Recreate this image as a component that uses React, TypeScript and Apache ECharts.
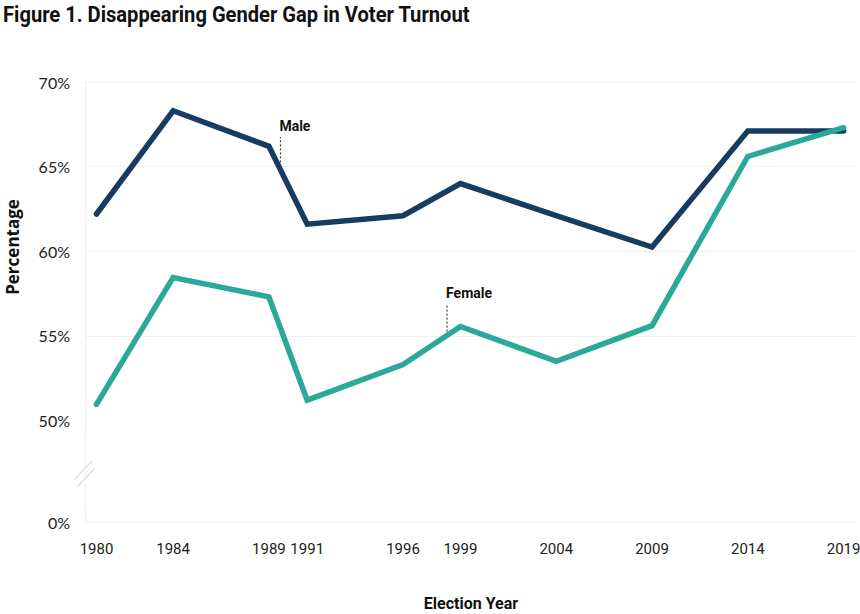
import React, { useEffect, useRef } from "react";
import * as echarts from "echarts";

const years = [1980, 1984, 1989, 1991, 1996, 1999, 2004, 2009, 2014, 2019];
const male = [62.2, 68.3, 66.2, 61.6, 62.1, 64.0, 62.1, 60.25, 67.1, 67.1];
const female = [50.95, 58.45, 57.3, 51.2, 53.3, 55.55, 53.5, 55.6, 65.6, 67.3];
const yTicks = [0, 50, 55, 60, 65, 70];
const maleNote = [[1989.6, 65.25], [1989.6, 66.75]];
const femaleNote = [[1998.3, 55.25], [1998.3, 56.9]];

const TITLE = "Figure 1. Disappearing Gender Gap in Voter Turnout";
const SANS = "Roboto, sans-serif";

function titleScale(): number {
  try {
    const ctx = document.createElement("canvas").getContext("2d");
    if (!ctx) return 0.85;
    ctx.font = "bold 22.5px Roboto";
    const w = ctx.measureText(TITLE).width;
    return w > 0 ? 467 / w : 0.85;
  } catch (e) {
    return 0.85;
  }
}

export default function App() {
  const ref = useRef<HTMLDivElement>(null);
  useEffect(() => {
    if (!ref.current) return;
    const chart = echarts.init(ref.current, null, { renderer: "svg" });
    const pair = (ys: number[]) => years.map((x, i) => [x, ys[i]]);
    const sx = titleScale();
    chart.setOption({
      animation: false,
      backgroundColor: "#ffffff",
      grid: { left: 85, right: 3, top: 82, bottom: 92, outerBoundsMode: "none", containLabel: false },
      xAxis: {
        type: "value",
        min: 1979.4,
        max: 2019.7,
        name: "Election Year",
        nameLocation: "middle",
        nameGap: 73,
        nameTextStyle: { fontFamily: SANS, fontWeight: "bold", fontSize: 16, color: "#111" },
        axisLine: { show: false },
        axisTick: { show: false },
        splitLine: { show: false },
        axisLabel: {
          customValues: years,
          margin: 19,
          fontFamily: SANS,
          fontSize: 15,
          color: "#222",
          formatter: (v: number) => String(v),
        },
      },
      yAxis: {
        type: "value",
        min: 0,
        max: 70,
        breaks: [{ start: 1, end: 49, gap: 4 }],
        breakArea: { show: false },
        axisLine: { show: true, lineStyle: { color: "#eeeeee", width: 1 } },
        axisTick: { show: false },
        splitLine: { show: true, lineStyle: { color: "#f0f0f0", width: 1 } },
        axisLabel: {
          customValues: yTicks,
          margin: 15,
          fontFamily: "Lato, sans-serif",
          fontSize: 16,
          color: "#222",
          formatter: (v: number) => v + "%",
        },
      },
      series: [
        {
          type: "line",
          data: pair(male),
          symbol: "none",
          lineStyle: { color: "#173b61", width: 5.5, cap: "round", join: "miter" },
          z: 3,
        },
        {
          type: "line",
          data: pair(female),
          symbol: "none",
          lineStyle: { color: "#2aa898", width: 5.5, cap: "round", join: "miter" },
          z: 4,
        },
        {
          type: "line",
          data: maleNote,
          symbol: "none",
          lineStyle: { color: "#222", width: 1, type: [2, 2] },
          endLabel: {
            show: true,
            formatter: () => "Male",
            offset: [-9, -11],
            fontFamily: SANS,
            fontWeight: "bold",
            fontSize: 14,
            color: "#111",
          },
          z: 5,
        },
        {
          type: "line",
          data: femaleNote,
          symbol: "none",
          lineStyle: { color: "#222", width: 1, type: [2, 2] },
          endLabel: {
            show: true,
            formatter: () => "Female",
            offset: [-9, -11],
            fontFamily: SANS,
            fontWeight: "bold",
            fontSize: 14,
            color: "#111",
          },
          z: 5,
        },
      ],
      graphic: [
        {
          type: "text",
          x: 3,
          y: 14,
          scaleX: sx,
          style: {
            text: TITLE,
            font: "bold 22.5px Roboto",
            fill: "#111",
            textAlign: "left",
            textVerticalAlign: "middle",
          },
        },
        {
          type: "text",
          x: 12,
          y: 247,
          rotation: Math.PI / 2,
          style: {
            text: "Percentage",
            font: "bold 17px 'Open Sans'",
            fill: "#111",
            textAlign: "center",
            textVerticalAlign: "middle",
          },
        },
        { type: "line", shape: { x1: 85, y1: 430, x2: 85, y2: 510 }, style: { stroke: "#eeeeee", lineWidth: 1 }, z: 1 },
        { type: "line", shape: { x1: 74, y1: 480, x2: 92, y2: 461 }, style: { stroke: "#dddddd", lineWidth: 1.2 }, z: 10 },
        { type: "line", shape: { x1: 77, y1: 487, x2: 95, y2: 468 }, style: { stroke: "#dddddd", lineWidth: 1.2 }, z: 10 },
      ],
    });
    return () => chart.dispose();
  }, []);
  return <div ref={ref} style={{ position: "fixed", left: 0, top: 0, width: 860, height: 614 }} />;
}
